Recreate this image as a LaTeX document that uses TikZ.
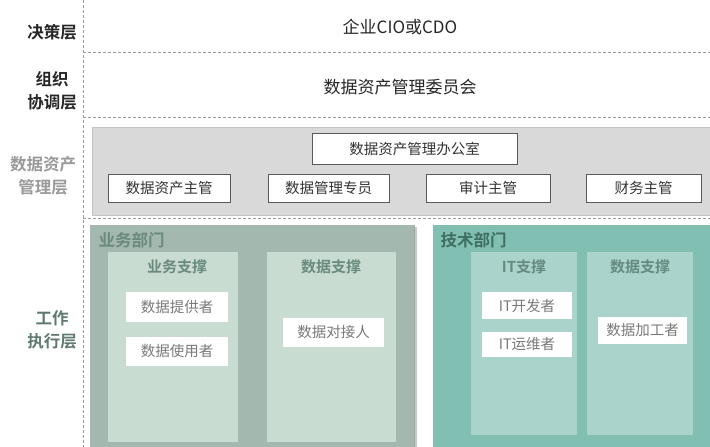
\documentclass[tikz,border=0pt]{standalone}
\usepackage{fontspec}
\setmainfont{Noto Sans CJK SC}
\newfontfamily\cjkb{Noto Sans CJK SC Bold}
\usetikzlibrary{positioning}
\definecolor{dashc}{HTML}{9A9A9A}
\definecolor{mgmtfill}{HTML}{D9D9D9}
\definecolor{mgmtline}{HTML}{C4C4C4}
\definecolor{bizout}{HTML}{A3B8AE}
\definecolor{bizin}{HTML}{C8DCD2}
\definecolor{biztxt}{HTML}{6B8A7E}
\definecolor{techout}{HTML}{80BFB2}
\definecolor{techin}{HTML}{AAD3CB}
\definecolor{techtxt}{HTML}{3F6E62}
\definecolor{roletxt}{HTML}{7A7A7A}
\definecolor{worktxt}{HTML}{5F7A70}
\begin{document}
\begin{tikzpicture}[x=1pt,y=-1pt,
  sepline/.style={dashc, densely dashed, line width=1pt},
  layerlbl/.style={font=\cjkb\fontsize{16.5}{23}\selectfont, align=center},
  whitebox/.style={draw=gray!70!black, fill=white, line width=0.8pt, font=\fontsize{14.5}{16}\selectfont, text=black!80},
  rolebox/.style={fill=white, draw=none, font=\fontsize{14.5}{16}\selectfont, text=roletxt},
  paneltitle/.style={font=\cjkb\fontsize{15}{17}\selectfont}
]
\useasboundingbox (0,0) rectangle (710,447);
% separators
\coordinate (vtop) at (83,0);
\coordinate (vbot) at (83,447);
\draw[sepline] (vtop) -- (vbot);
\coordinate (h1a) at (83,52);  \coordinate (h1b) at (710,52);
\coordinate (h2a) at (83,117); \coordinate (h2b) at (710,117);
\coordinate (h3a) at (83,218); \coordinate (h3b) at (710,218);
\draw[sepline] (h1a) -- (h1b);
\draw[sepline] (h2a) -- (h2b);
\draw[sepline] (h3a) -- (h3b);
% layer labels
\node[layerlbl, text=black!85] (l1) at (52,32) {决策层};
\node[layerlbl, text=black!85] (l2) at (52,91) {组织\\协调层};
\node[layerlbl, text=gray!80] (l3) at (43,175.5) {数据资产\\管理层};
\node[layerlbl, text=worktxt] (l4) at (52,330) {工作\\执行层};
% top texts
\node[font=\fontsize{17}{20}\selectfont, text=black!85] (cio) at (400,27) {企业CIO或CDO};
\node[font=\fontsize{17}{20}\selectfont, text=black!85] (cmt) at (400,87) {数据资产管理委员会};
% management layer
\path[fill=mgmtfill, draw=mgmtline, line width=0.8pt] (92,127) rectangle (712,215);
\node[whitebox, minimum width=205pt, minimum height=31pt] (office) at (414.5,148.5) {数据资产管理办公室};
\node[whitebox, minimum width=122pt, minimum height=28pt] (m1) at (169,188) {数据资产主管};
\node[whitebox, minimum width=121pt, minimum height=28pt] (m2) at (328.5,188) {数据管理专员};
\node[whitebox, minimum width=124pt, minimum height=28pt] (m3) at (488,188) {审计主管};
\node[whitebox, minimum width=115pt, minimum height=28pt] (m4) at (643.5,188) {财务主管};
% business department
\path[fill=bizout] (90,225) rectangle (415,449);
\path[fill=bizout!85!black, opacity=0.5] (414,227) rectangle (417,449);
\node[anchor=west, font=\cjkb\fontsize{16.5}{18}\selectfont, text=biztxt] (bizlbl) at (95,240) {业务部门};
\path[fill=bizin] (108,252) rectangle (238,442);
\path[fill=bizin] (267,252) rectangle (396,442);
\node[paneltitle, text=biztxt] (bs) at (177,267) {业务支撑};
\node[paneltitle, text=biztxt] (ds1) at (331,267) {数据支撑};
\node[rolebox, minimum width=102pt, minimum height=30pt] (r1) at (177,307) {数据提供者};
\node[rolebox, minimum width=102pt, minimum height=29pt] (r2) at (177,351.5) {数据使用者};
\node[rolebox, minimum width=101pt, minimum height=29pt] (r3) at (333.5,332.5) {数据对接人};
% technology department
\path[fill=techout] (433,225) rectangle (712,449);
\node[anchor=west, font=\cjkb\fontsize{16.5}{18}\selectfont, text=techtxt] (techlbl) at (437,240) {技术部门};
\path[fill=techin] (471,252) rectangle (577,435);
\path[fill=techin] (587,252) rectangle (693,435);
\node[paneltitle, text=techtxt!80] (its) at (524,267) {IT支撑};
\node[paneltitle, text=techtxt!80] (ds2) at (640,267) {数据支撑};
\node[rolebox, minimum width=90pt, minimum height=27pt] (r4) at (527,305.5) {IT开发者};
\node[rolebox, minimum width=90pt, minimum height=25pt] (r5) at (527,344.5) {IT运维者};
\node[rolebox, minimum width=89pt, minimum height=27pt] (r6) at (642.5,330.5) {数据加工者};
\end{tikzpicture}
\end{document}
